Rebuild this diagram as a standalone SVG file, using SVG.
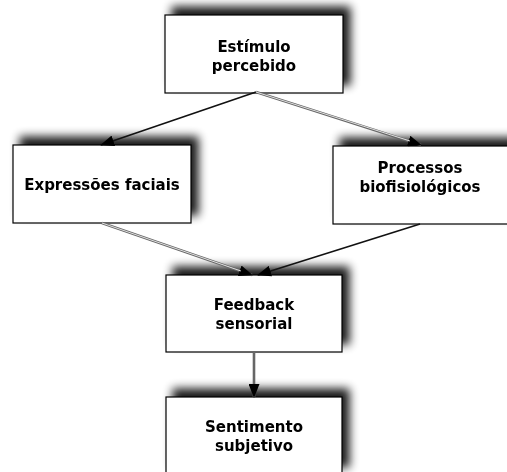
<svg xmlns="http://www.w3.org/2000/svg" width="507" height="472" viewBox="0 0 507 472">
  <defs>
    <filter id="sh" x="-20%" y="-50%" width="140%" height="200%">
      <feGaussianBlur in="SourceAlpha" stdDeviation="5" result="b"/>
      <feOffset in="b" dx="7" dy="-8" result="o"/>
      <feComponentTransfer in="o" result="oc"><feFuncA type="linear" slope="0.9"/></feComponentTransfer>
      <feMerge><feMergeNode in="oc"/><feMergeNode in="SourceGraphic"/></feMerge>
    </filter>
    <marker id="ah" viewBox="0 0 14 11" refX="13" refY="5.5" markerWidth="14" markerHeight="11" markerUnits="userSpaceOnUse" orient="auto">
      <path d="M0,0 L14,5.5 L0,11 z" fill="#000"/>
    </marker>
  </defs>
  <style>
    .box{fill:#fff;stroke:#000;stroke-width:1.2}
    .t{font-family:"DejaVu Sans",Verdana,sans-serif;font-weight:bold;font-size:15px;fill:#000;text-anchor:middle}
    .c{fill:none;stroke:#111;stroke-width:1.6}
    .d{fill:none;stroke:#666;stroke-width:2.6}
    .di{fill:none;stroke:#fff;stroke-width:0.8}
  </style>
  <rect width="507" height="472" fill="#fff"/>
  <g id="n1" filter="url(#sh)">
    <rect class="box" x="165" y="15" width="178" height="78"/>
    <text class="t" x="254" y="52">Estímulo</text>
    <text class="t" x="254" y="71">percebido</text>
  </g>
  <g id="n2" filter="url(#sh)">
    <rect class="box" x="13" y="145" width="178" height="78"/>
    <text class="t" x="102" y="190">Expressões faciais</text>
  </g>
  <g id="n3" filter="url(#sh)">
    <rect class="box" x="333" y="146" width="180" height="78"/>
    <text class="t" x="420" y="173">Processos</text>
    <text class="t" x="420" y="192">biofisiológicos</text>
  </g>
  <g id="n4" filter="url(#sh)">
    <rect class="box" x="166" y="275" width="176" height="77"/>
    <text class="t" x="254" y="310">Feedback</text>
    <text class="t" x="254" y="329">sensorial</text>
  </g>
  <g id="n5" filter="url(#sh)">
    <rect class="box" x="166" y="397" width="176" height="78"/>
    <text class="t" x="254" y="432">Sentimento</text>
    <text class="t" x="254" y="451">subjetivo</text>
  </g>
  <g id="connectors">
    <line class="c" x1="256" y1="92" x2="101" y2="145" marker-end="url(#ah)"/>
    <line class="d" x1="256" y1="92" x2="421" y2="145" marker-end="url(#ah)"/>
    <line class="di" x1="256" y1="92" x2="410" y2="141"/>
    <line class="d" x1="102" y1="223" x2="252" y2="275" marker-end="url(#ah)"/>
    <line class="di" x1="102" y1="223" x2="241" y2="271"/>
    <line class="c" x1="420" y1="224" x2="258" y2="275" marker-end="url(#ah)"/>
    <line class="d" x1="254" y1="352" x2="254" y2="397" marker-end="url(#ah)"/>
  </g>
</svg>
